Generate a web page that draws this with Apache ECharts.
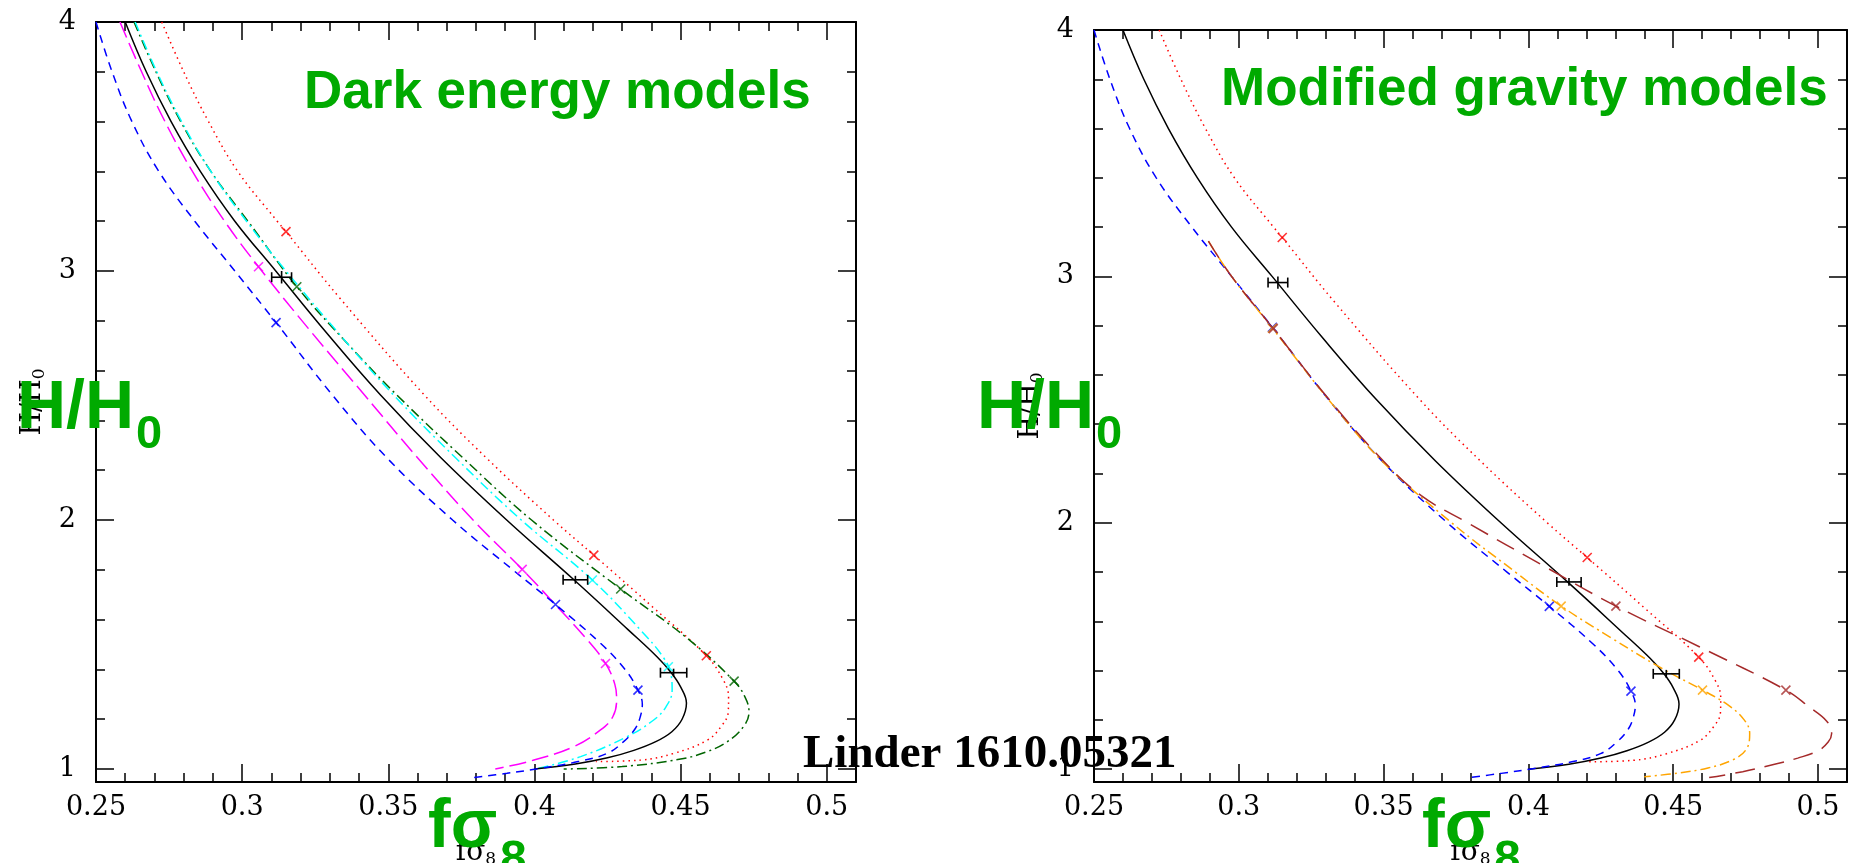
<!DOCTYPE html>
<html>
<head>
<meta charset="utf-8">
<script src="https://cdn.jsdelivr.net/npm/echarts@6/dist/echarts.min.js"></script>
<style>
html,body{margin:0;padding:0;background:#fff;}
#chart{width:1853px;height:863px;}
</style>
</head>
<body>
<div id="chart"></div>
<script>
// ---------- tick values ----------
const xMajorTicks = [0.25, 0.3, 0.35, 0.4, 0.45, 0.5];
const xMinorTicks = [0.25,0.26,0.27,0.28,0.29,0.30,0.31,0.32,0.33,0.34,0.35,0.36,0.37,0.38,0.39,0.40,0.41,0.42,0.43,0.44,0.45,0.46,0.47,0.48,0.49,0.50];
const yMajorTicks = [1, 2, 3, 4];
const yMinorTicks = [1,1.2,1.4,1.6,1.8,2,2.2,2.4,2.6,2.8,3,3.2,3.4,3.6,3.8,4];

// ---------- curves: [fσ8, H/H0] ----------
const lcdmCurve = [[0.2600,4.00],[0.2672,3.80],[0.2757,3.60],[0.2857,3.40],[0.2975,3.20],[0.3115,3.00],[0.3290,2.75],[0.3475,2.50],[0.3680,2.25],[0.3905,2.00],[0.4135,1.76],[0.4320,1.56],[0.4420,1.45],[0.4468,1.387],[0.4500,1.33],[0.4520,1.265],[0.4505,1.20],[0.4470,1.15],[0.4415,1.11],[0.4340,1.075],[0.4250,1.045],[0.4140,1.02],[0.4000,1.00]];
const blueCurve = [[0.2500,4.00],[0.2555,3.80],[0.2623,3.60],[0.2715,3.40],[0.2838,3.20],[0.2975,3.00],[0.3116,2.793],[0.3310,2.50],[0.3495,2.25],[0.3720,2.00],[0.3926,1.80],[0.4072,1.661],[0.4226,1.505],[0.4310,1.40],[0.4354,1.317],[0.4369,1.26],[0.4362,1.21],[0.4345,1.163],[0.4305,1.11],[0.4249,1.063],[0.4150,1.03],[0.4021,1.003],[0.3906,0.983],[0.3787,0.965]];
const redCurve = [[0.2725,4.00],[0.2800,3.80],[0.2885,3.60],[0.2985,3.40],[0.3120,3.20],[0.3150,3.158],[0.3330,2.897],[0.3625,2.50],[0.3835,2.25],[0.4065,2.00],[0.4203,1.859],[0.4405,1.65],[0.4588,1.455],[0.4645,1.36],[0.4664,1.29],[0.4663,1.23],[0.4638,1.17],[0.4591,1.116],[0.4477,1.063],[0.4363,1.036],[0.4210,1.03]];
const magentaCurve = [[0.2582,4.00],[0.2656,3.80],[0.2736,3.60],[0.2830,3.40],[0.2940,3.20],[0.3056,3.017],[0.3240,2.75],[0.3420,2.50],[0.3600,2.25],[0.3790,2.00],[0.3958,1.802],[0.4078,1.652],[0.4180,1.52],[0.4243,1.424],[0.4275,1.34],[0.4281,1.277],[0.4268,1.21],[0.4226,1.157],[0.4135,1.09],[0.3998,1.036],[0.3866,1.00]];
const cyanCurve = [[0.2634,4.00],[0.2708,3.80],[0.2793,3.60],[0.2893,3.40],[0.3015,3.20],[0.3150,3.00],[0.3330,2.75],[0.3520,2.50],[0.3730,2.25],[0.3955,2.00],[0.4198,1.759],[0.4363,1.558],[0.4440,1.45],[0.4467,1.38],[0.4471,1.317],[0.4450,1.25],[0.4408,1.197],[0.4317,1.13],[0.4158,1.05],[0.4003,1.00]];
const greenCurve = [[0.2630,4.00],[0.2705,3.80],[0.2790,3.60],[0.2893,3.40],[0.3020,3.20],[0.3187,2.937],[0.3367,2.70],[0.3531,2.50],[0.3755,2.25],[0.3990,2.00],[0.4295,1.723],[0.4523,1.525],[0.4683,1.353],[0.4720,1.29],[0.4734,1.23],[0.4715,1.17],[0.4660,1.11],[0.4591,1.07],[0.4500,1.04],[0.4300,1.01],[0.4100,1.00]];
const orangeCurve = [[0.2895,3.143],[0.2975,3.00],[0.3116,2.79],[0.3310,2.50],[0.3495,2.25],[0.3735,2.00],[0.3955,1.80],[0.4113,1.662],[0.4290,1.53],[0.4452,1.415],[0.4601,1.321],[0.4690,1.26],[0.4745,1.20],[0.4764,1.145],[0.4752,1.08],[0.4704,1.037],[0.4620,1.005],[0.4520,0.985],[0.4400,0.969]];
const brownCurve = [[0.2895,3.143],[0.2975,3.00],[0.3119,2.788],[0.3312,2.50],[0.3500,2.25],[0.3630,2.11],[0.3790,2.00],[0.4060,1.82],[0.4302,1.662],[0.4590,1.497],[0.4889,1.321],[0.4969,1.253],[0.5030,1.195],[0.5047,1.145],[0.5035,1.11],[0.5000,1.075],[0.4930,1.045],[0.4850,1.02],[0.4740,0.99],[0.4624,0.966]];

// ---------- x markers ----------
const redMarks = [[0.3150,3.158],[0.4203,1.859],[0.4588,1.455]];
const blueMarks = [[0.3116,2.793],[0.4072,1.661],[0.4354,1.317]];
const magentaMarks = [[0.3056,3.017],[0.3958,1.802],[0.4243,1.424]];
const greenMarks = [[0.3187,2.937],[0.4295,1.723],[0.4683,1.353]];
const cyanMarks = [[0.4198,1.759],[0.4458,1.411]];
const orangeMarks = [[0.3116,2.790],[0.4113,1.662],[0.4601,1.321]];
const brownMarks = [[0.3119,2.788],[0.4302,1.662],[0.4889,1.321]];

// ---------- data points with errors: [x, y, xerr, yerr] ----------
const dataPoints = [[0.3135,2.975,0.0034,0.025],[0.4140,1.760,0.0042,0.016],[0.4476,1.387,0.0045,0.016]];

const FONT_SERIF = 'DejaVu Serif';
const GREEN = '#00aa00';

function xAxes(g) {
  const base = {type:'value', gridIndex:g, min:0.25, max:0.51, splitLine:{show:false}};
  const lineOn = {show:true, onZero:false, lineStyle:{color:'#000', width:2}};
  return [
    Object.assign({}, base, {position:'bottom', axisLine:lineOn,
      axisTick:{show:true, inside:true, length:18, customValues:xMajorTicks, lineStyle:{color:'#000', width:1.5}},
      axisLabel:{show:true, customValues:xMajorTicks, margin:12, fontFamily:FONT_SERIF, fontSize:27, color:'#000'},
      name:'{m|fσ}{s|8}', nameLocation:'middle', nameGap:56,
      nameTextStyle:{rich:{m:{fontFamily:FONT_SERIF, fontSize:28, color:'#000', lineHeight:30}, s:{fontFamily:FONT_SERIF, fontSize:17, color:'#000', lineHeight:8, verticalAlign:'bottom'}}}}),
    Object.assign({}, base, {position:'bottom', axisLine:{show:false},
      axisTick:{show:true, inside:true, length:9, customValues:xMinorTicks, lineStyle:{color:'#000', width:1.5}},
      axisLabel:{show:false}}),
    Object.assign({}, base, {position:'top', axisLine:lineOn,
      axisTick:{show:true, inside:true, length:18, customValues:xMajorTicks, lineStyle:{color:'#000', width:1.5}},
      axisLabel:{show:false}}),
    Object.assign({}, base, {position:'top', axisLine:{show:false},
      axisTick:{show:true, inside:true, length:9, customValues:xMinorTicks, lineStyle:{color:'#000', width:1.5}},
      axisLabel:{show:false}})
  ];
}
function yAxes(g) {
  const base = {type:'value', gridIndex:g, min:0.948, max:4.0, splitLine:{show:false}};
  const lineOn = {show:true, onZero:false, lineStyle:{color:'#000', width:2}};
  return [
    Object.assign({}, base, {position:'left', axisLine:lineOn,
      axisTick:{show:true, inside:true, length:18, customValues:yMajorTicks, lineStyle:{color:'#000', width:1.5}},
      axisLabel:{show:true, customValues:yMajorTicks, margin:20, fontFamily:FONT_SERIF, fontSize:27, color:'#000'},
      name:'{m|H/H}{s|0}', nameLocation:'middle', nameRotate:90, nameGap:48,
      nameTextStyle:{rich:{m:{fontFamily:FONT_SERIF, fontSize:27, color:'#000', lineHeight:30}, s:{fontFamily:FONT_SERIF, fontSize:17, color:'#000', lineHeight:8, verticalAlign:'bottom'}}}}),
    Object.assign({}, base, {position:'left', axisLine:{show:false},
      axisTick:{show:true, inside:true, length:9, customValues:yMinorTicks, lineStyle:{color:'#000', width:1.5}},
      axisLabel:{show:false}}),
    Object.assign({}, base, {position:'right', axisLine:lineOn,
      axisTick:{show:true, inside:true, length:18, customValues:yMajorTicks, lineStyle:{color:'#000', width:1.5}},
      axisLabel:{show:false}}),
    Object.assign({}, base, {position:'right', axisLine:{show:false},
      axisTick:{show:true, inside:true, length:9, customValues:yMinorTicks, lineStyle:{color:'#000', width:1.5}},
      axisLabel:{show:false}})
  ];
}

function curve(data, color, dash, ai) {
  return {type:'line', data:data, xAxisIndex:ai, yAxisIndex:ai, showSymbol:false, symbol:'none',
    smooth:0.4, clip:true, z:2, silent:true,
    lineStyle:{color:color, width:1.5, type:dash}};
}
function marks(data, color, ai) {
  return {type:'scatter', data:data, xAxisIndex:ai, yAxisIndex:ai, z:3, silent:true,
    symbol:'path://M0,0L10,10M10,0L0,10', symbolSize:9,
    itemStyle:{color:'rgba(0,0,0,0)', borderColor:color, borderWidth:1.6}};
}
function errs(data, ai) {
  return {type:'custom', data:data, xAxisIndex:ai, yAxisIndex:ai, z:4, silent:true,
    renderItem:function(params, api){
      const x = api.value(0), y = api.value(1), ex = api.value(2), ey = api.value(3);
      const l = api.coord([x-ex, y]), r = api.coord([x+ex, y]);
      const t = api.coord([x, y+ey]), b = api.coord([x, y-ey]);
      const cap = 5;
      const st = {stroke:'#000', lineWidth:1.6};
      return {type:'group', children:[
        {type:'line', shape:{x1:l[0], y1:l[1], x2:r[0], y2:r[1]}, style:st},
        {type:'line', shape:{x1:l[0], y1:l[1]-cap, x2:l[0], y2:l[1]+cap}, style:st},
        {type:'line', shape:{x1:r[0], y1:r[1]-cap, x2:r[0], y2:r[1]+cap}, style:st},
        {type:'line', shape:{x1:t[0], y1:t[1], x2:b[0], y2:b[1]}, style:st}
      ]};
    }};
}

const DOT = [1.5, 4];
const DASH = [8, 6];
const LONGDASH = [17, 6];
const DASHDOT = [10, 4, 2, 4];
const LONGDASH2 = [20, 10];

const series = [
  // left panel (axis index 0)
  curve(redCurve, '#ff0000', DOT, 0),
  curve(greenCurve, '#006400', DASHDOT, 0),
  curve(cyanCurve, '#00ffff', DASHDOT, 0),
  curve(lcdmCurve, '#000000', 'solid', 0),
  curve(magentaCurve, '#ff00ff', LONGDASH, 0),
  curve(blueCurve, '#0000ff', DASH, 0),
  marks(redMarks, '#ff0000', 0),
  marks(greenMarks, '#006400', 0),
  marks(cyanMarks, '#00ffff', 0),
  marks(magentaMarks, '#ff00ff', 0),
  marks(blueMarks, '#0000ff', 0),
  errs(dataPoints, 0),
  // right panel (axis index 4)
  curve(redCurve, '#ff0000', DOT, 4),
  curve(lcdmCurve, '#000000', 'solid', 4),
  curve(blueCurve, '#0000ff', DASH, 4),
  curve(orangeCurve, '#ffa500', DASHDOT, 4),
  curve(brownCurve, '#a52a2a', LONGDASH2, 4),
  marks(redMarks, '#ff0000', 4),
  marks(blueMarks, '#0000ff', 4),
  marks(orangeMarks, '#ffa500', 4),
  marks(brownMarks, '#a52a2a', 4),
  errs(dataPoints, 4)
];

function gtext(txt, x, y, size, family, weight, color) {
  return {type:'text', x:x, y:y, z:100, silent:true,
    style:{text:txt, fontSize:size, fontFamily:family, fontWeight:weight, fill:color, align:'left', verticalAlign:'middle'}};
}

const option = {
  animation:false,
  backgroundColor:'#ffffff',
  grid:[
    {left:96, top:22, width:760, height:760, containLabel:false, outerBoundsMode:'none'},
    {left:1094, top:30, width:753, height:752, containLabel:false, outerBoundsMode:'none'}
  ],
  xAxis: xAxes(0).concat(xAxes(1)),
  yAxis: yAxes(0).concat(yAxes(1)),
  series: series,
  graphic: [
    gtext('Dark energy models', 304, 93, 53, 'Liberation Sans', 'bold', GREEN),
    gtext('Modified gravity models', 1221, 90, 53, 'Liberation Sans', 'bold', GREEN),
    gtext('H/H', 17, 409, 68, 'Liberation Sans', 'bold', GREEN),
    gtext('0', 136, 435, 47, 'Liberation Sans', 'bold', GREEN),
    gtext('H/H', 977, 409, 68, 'Liberation Sans', 'bold', GREEN),
    gtext('0', 1096, 435, 47, 'Liberation Sans', 'bold', GREEN),
    gtext('fσ', 428, 828, 68, 'Liberation Sans', 'bold', GREEN),
    gtext('8', 500, 861, 48, 'Liberation Sans', 'bold', GREEN),
    gtext('fσ', 1422, 828, 68, 'Liberation Sans', 'bold', GREEN),
    gtext('8', 1494, 861, 48, 'Liberation Sans', 'bold', GREEN),
    gtext('Linder 1610.05321', 803, 755, 47, 'Liberation Serif', 'bold', '#000000')
  ]
};

const chart = echarts.init(document.getElementById('chart'), null, {renderer:'canvas'});
chart.setOption(option);
</script>
</body>
</html>
